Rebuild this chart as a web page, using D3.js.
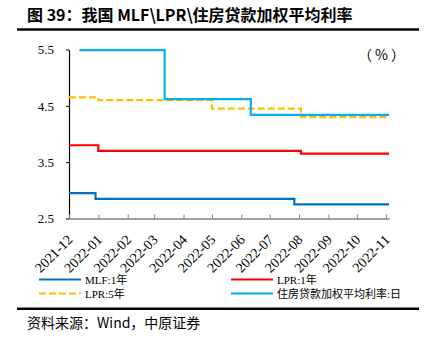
<!DOCTYPE html>
<html>
<head>
<meta charset="utf-8">
<script src="https://cdn.jsdelivr.net/npm/d3@7"></script>
<style>
html,body{margin:0;padding:0;background:#fff;}
svg{display:block;}
</style>
</head>
<body>
<svg id="chart" width="435" height="341"></svg>
<script>
// ---- data ----
const titleText = "图 39：我国 MLF\\LPR\\住房贷款加权平均利率";
const sourceText = "资料来源：Wind，中原证券";
const unitText = "（%）";

const mlfDates = ["2021-12-20", "2022-01-17", "2022-08-15", "2022-11-23"];
const mlfValues = [2.95, 2.85, 2.75, 2.75];

const lpr1Dates = ["2021-12-20", "2022-01-20", "2022-08-22", "2022-11-23"];
const lpr1Values = [3.80, 3.70, 3.65, 3.65];

const lpr5Dates = ["2021-12-20", "2022-01-20", "2022-05-20", "2022-08-22", "2022-11-23"];
const lpr5Values = [4.65, 4.60, 4.45, 4.30, 4.30];

const mortDates = ["2021-12-31", "2022-03-31", "2022-06-30", "2022-11-23"];
const mortValues = [5.49, 4.62, 4.34, 4.34];

const xTickDates = ["2021-12-20", "2022-01-20", "2022-02-20", "2022-03-20", "2022-04-20", "2022-05-20",
                    "2022-06-20", "2022-07-20", "2022-08-20", "2022-09-20", "2022-10-20", "2022-11-20"];
const xTickLabels = ["2021-12", "2022-01", "2022-02", "2022-03", "2022-04", "2022-05",
                     "2022-06", "2022-07", "2022-08", "2022-09", "2022-10", "2022-11"];
const yTicks = [2.5, 3.5, 4.5, 5.5];

const seriesNames = ["MLF:1年", "LPR:1年", "LPR:5年", "住房贷款加权平均利率:日"];

// ---- drawing ----
const parse = d3.utcParse("%Y-%m-%d");
const svg = d3.select("#chart");
const serif = "'Liberation Serif','Times New Roman','Noto Sans CJK SC',serif";
const cjk = "'Noto Sans CJK SC','Liberation Sans',sans-serif";

const x = d3.scaleUtc()
  .domain([parse("2021-12-20"), parse("2022-11-23")])
  .range([69, 389]);
const y = d3.scaleLinear().domain([2.5, 5.5]).range([218.5, 49.5]);

// title
svg.append("text").attr("x", 27).attr("y", 20.5)
  .attr("font-family", cjk).attr("font-weight", "bold").attr("font-size", 16)
  .attr("fill", "#000").text(titleText);
svg.append("line").attr("x1", 17).attr("x2", 419).attr("y1", 29.5).attr("y2", 29.5)
  .attr("stroke", "#000").attr("stroke-width", 2.3);

// unit
svg.append("text").attr("x", 358).attr("y", 60)
  .attr("font-family", cjk).attr("font-size", 14).attr("letter-spacing", 3)
  .attr("fill", "#000").text(unitText);

// axes
const yAxis = d3.axisLeft(y).tickValues(yTicks).tickFormat(d3.format(".1f"))
  .tickSizeInner(3).tickSizeOuter(0).tickPadding(12);
const gy = svg.append("g").attr("transform", "translate(69,0)").call(yAxis);
gy.select(".domain").attr("stroke", "#000").attr("stroke-width", 1.2);
gy.selectAll(".tick line").attr("stroke", "#000");
gy.selectAll(".tick text").attr("font-family", serif).attr("font-size", 13).attr("fill", "#000");

const xAxis = d3.axisBottom(x).tickValues(xTickDates.map(parse))
  .tickFormat((d, i) => xTickLabels[i]).tickSizeInner(-4).tickSizeOuter(0);
const gx = svg.append("g").attr("transform", "translate(0,218.5)").call(xAxis);
gx.select(".domain").attr("stroke", "#808080").attr("stroke-width", 1.3);
gx.selectAll(".tick line").attr("stroke", "#808080");
gx.selectAll(".tick text")
  .attr("font-family", serif).attr("font-size", 14).attr("fill", "#000")
  .attr("text-anchor", "end").attr("dy", null).attr("y", 0).attr("x", 0)
  .attr("transform", "translate(4,22) rotate(-45)");

// lines
const line = d3.line().x(d => x(d[0])).y(d => y(d[1])).curve(d3.curveStepAfter);
function series(dates, vals) { return dates.map((d, i) => [parse(d), vals[i]]); }
const seriesList = [
  {data: series(mlfDates, mlfValues), color: "#0070C0", dash: null},
  {data: series(lpr1Dates, lpr1Values), color: "#FF0000", dash: null},
  {data: series(lpr5Dates, lpr5Values), color: "#FFC000", dash: "7,3"},
  {data: series(mortDates, mortValues), color: "#00B0F0", dash: null}
];
seriesList.forEach(s => {
  svg.append("path").attr("d", line(s.data)).attr("fill", "none")
    .attr("stroke", s.color).attr("stroke-width", 2.2)
    .attr("stroke-dasharray", s.dash);
});

// legend
const legPos = [[39, 279.5], [231, 279.5], [39, 293.5], [231, 293.5]];
seriesList.forEach((s, i) => {
  const [lx, ly] = legPos[i];
  svg.append("line").attr("x1", lx).attr("x2", lx + 42).attr("y1", ly).attr("y2", ly)
    .attr("stroke", s.color).attr("stroke-width", 2.2).attr("stroke-dasharray", s.dash);
  svg.append("text").attr("x", lx + 46).attr("y", ly + 4)
    .attr("font-family", serif).attr("font-size", 11).attr("fill", "#000").text(seriesNames[i]);
});

// bottom rule & source
svg.append("line").attr("x1", 17).attr("x2", 419).attr("y1", 308.7).attr("y2", 308.7)
  .attr("stroke", "#000").attr("stroke-width", 2.5);
svg.append("text").attr("x", 27).attr("y", 328)
  .attr("font-family", cjk).attr("font-size", 14).attr("fill", "#000").text(sourceText);
</script>
</body>
</html>
